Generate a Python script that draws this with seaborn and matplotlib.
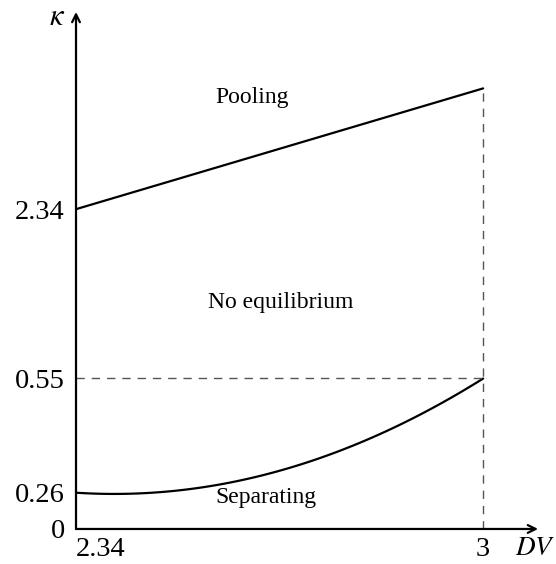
import matplotlib
matplotlib.use('Agg')
import matplotlib.pyplot as plt
import numpy as np
import pandas as pd
import seaborn as sns

# values
dv_ticks = [2.34, 3]
dv_tick_labels = ['2.34', '3']
k_ticks = [0, 0.26, 0.55, 2.34]
k_tick_labels = ['0', '0.26', '0.55', '2.34']

# pooling boundary (straight line)
pool_dv = [2.34, 3.0]
pool_k = [2.34, 3.62]

# separating boundary (curve)
sep_dv = [2.34, 2.395, 2.509, 2.671, 2.833, 3.0]
sep_k = [0.26, 0.2535, 0.268, 0.318, 0.406, 0.55]

regions = ['Pooling', 'No equilibrium', 'Separating']
region_dv = [2.625, 2.671, 2.648]
region_k = [3.52, 1.355, 0.224]

# the kappa axis is schematic, not to scale: piecewise linear scale
knot_k = np.array([0, 0.26, 0.55, 2.34])
knot_pos = np.array([0, 36, 151, 320])
slope = (knot_pos[-1] - knot_pos[-2]) / (knot_k[-1] - knot_k[-2])


def fwd(y):
    y = np.asarray(y, dtype=float)
    return np.where(y > knot_k[-1], knot_pos[-1] + (y - knot_k[-1]) * slope,
                    np.interp(y, knot_k, knot_pos))


def inv(p):
    p = np.asarray(p, dtype=float)
    return np.where(p > knot_pos[-1], knot_k[-1] + (p - knot_pos[-1]) / slope,
                    np.interp(p, knot_pos, knot_k))


sns.set_theme(style='white')
plt.rcParams['font.family'] = ['Liberation Serif', 'DejaVu Serif']
plt.rcParams['mathtext.fontset'] = 'stix'
plt.rcParams['text.color'] = 'black'
plt.rcParams['xtick.color'] = 'black'
plt.rcParams['ytick.color'] = 'black'

fig = plt.figure(figsize=(5.56, 5.64), dpi=100)
ax = fig.add_axes([0.1367, 0.0621, 0.831, 0.9167])
ax.set_yscale('function', functions=(fwd, inv))

pool = pd.DataFrame({'DV': pool_dv, 'k': pool_k})
sns.lineplot(data=pool, x='DV', y='k', color='black', lw=1.6, ax=ax)

# smooth the read-off points (fit in scaled space so the curve has no kink)
sep_s = np.linspace(sep_dv[0], sep_dv[-1], 120)
coef = np.polyfit(sep_dv, fwd(sep_k), 2)
sep = pd.DataFrame({'DV': sep_s, 'k': inv(np.polyval(coef, sep_s))})
sns.lineplot(data=sep, x='DV', y='k', color='black', lw=1.6, ax=ax)

ax.plot([dv_ticks[1], dv_ticks[1]], [0, pool_k[1]], color='#555555', lw=1,
        dashes=(6, 5))
ax.plot([dv_ticks[0], dv_ticks[1]], [sep_k[-1], sep_k[-1]], color='#555555', lw=1,
        dashes=(6, 5))

for name, x, y in zip(regions, region_dv, region_k):
    ax.text(x, y, name, ha='center', va='center', fontsize=17, color='black')

ax.set_xlim(2.34, 3.089)
ax.set_ylim(0, 4.43)
ax.set_xticks(dv_ticks)
ax.set_xticklabels(dv_tick_labels)
ax.set_yticks(k_ticks)
ax.set_yticklabels(k_tick_labels)
ax.tick_params(axis='both', length=0, labelsize=20.5, labelcolor='black')
ax.tick_params(axis='x', pad=6)
ax.tick_params(axis='y', pad=8)
ax.get_xticklabels()[0].set_horizontalalignment('left')
ax.set_xlabel('')
ax.set_ylabel('')
ax.yaxis.set_minor_locator(matplotlib.ticker.NullLocator())

for s in ax.spines.values():
    s.set_visible(False)
ax.annotate('', xy=(1, 0), xytext=(0, 0), xycoords='axes fraction',
            arrowprops=dict(arrowstyle='->', lw=1.6, color='black',
                            shrinkA=0, shrinkB=0, mutation_scale=14))
ax.annotate('', xy=(0, 1), xytext=(0, 0), xycoords='axes fraction',
            arrowprops=dict(arrowstyle='->', lw=1.6, color='black',
                            shrinkA=0, shrinkB=0, mutation_scale=14))
ax.text(1.037, -0.037, '$DV$', transform=ax.transAxes, ha='right', va='center',
        fontsize=19.5, color='black')
ax.text(-0.023, 0.99, r'$\kappa$', transform=ax.transAxes, ha='right',
        va='center', fontsize=22, color='black')

fig.savefig('out.png', dpi=100)
